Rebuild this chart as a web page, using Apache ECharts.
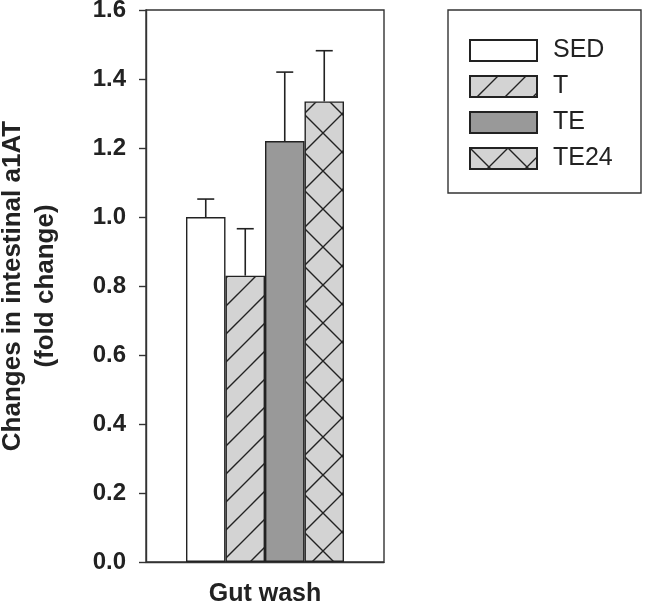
<!DOCTYPE html>
<html>
<head>
<meta charset="utf-8">
<script src="https://cdn.jsdelivr.net/npm/echarts@6/dist/echarts.min.js"></script>
<style>
  html, body { margin: 0; padding: 0; background: #fff; }
  #main { width: 645px; height: 605px; }
</style>
</head>
<body>
<div id="main"></div>
<script>
// data
var categories = ['Gut wash'];
var groups = ['SED', 'T', 'TE', 'TE24'];
var means = [1.00, 0.83, 1.22, 1.335];
var errors = [0.052, 0.136, 0.20, 0.147];

// hatch fills drawn on a small canvas
function hatch(size, bg, both) {
  var c = document.createElement('canvas');
  c.width = size; c.height = size;
  var g = c.getContext('2d');
  g.fillStyle = bg;
  g.fillRect(0, 0, size, size);
  g.strokeStyle = '#222';
  g.lineWidth = 1.4;
  g.beginPath();
  // "/" lines
  g.moveTo(-2, size + 2); g.lineTo(size + 2, -2);
  g.moveTo(-2, 2); g.lineTo(2, -2);
  g.moveTo(size - 2, size + 2); g.lineTo(size + 2, size - 2);
  if (both) {
    // "\" lines
    g.moveTo(-2, -2); g.lineTo(size + 2, size + 2);
    g.moveTo(size - 2, -2); g.lineTo(size + 2, 2);
    g.moveTo(-2, size - 2); g.lineTo(2, size + 2);
  }
  g.stroke();
  return { image: c, repeat: 'repeat' };
}

var fills = ['#ffffff', hatch(28, '#d3d3d3', false), '#999999', hatch(38, '#d3d3d3', true)];
var barW = 39.5;
var font = 'Liberation Sans';

var chart = echarts.init(document.getElementById('main'));

var series = groups.map(function (name, i) {
  return {
    name: name,
    type: 'bar',
    data: [means[i]],
    barWidth: barW,
    barGap: '0%',
    itemStyle: { color: fills[i], borderColor: '#222', borderWidth: 1.4 },
    z: 2
  };
});

// error bars (upper only)
series.push({
  type: 'custom',
  z: 3,
  data: groups.map(function (g, i) { return [0, i, means[i], errors[i]]; }),
  renderItem: function (params, api) {
    var i = api.value(1);
    var base = api.coord([api.value(0), api.value(2)]);
    var top = api.coord([api.value(0), api.value(2) + api.value(3)]);
    var x = base[0] + (i - 1.5) * barW;
    var half = 8.5;
    var st = { stroke: '#222', lineWidth: 1.6 };
    return {
      type: 'group',
      children: [
        { type: 'line', shape: { x1: x, y1: base[1], x2: x, y2: top[1] }, style: st },
        { type: 'line', shape: { x1: x - half, y1: top[1], x2: x + half, y2: top[1] }, style: st }
      ]
    };
  }
});

var option = {
  backgroundColor: '#ffffff',
  animation: false,
  grid: {
    left: 146, right: 261, top: 10, bottom: 43,
    outerBoundsMode: 'none',
    show: true, borderColor: '#333', borderWidth: 1.4
  },
  legend: {
    data: groups,
    orient: 'vertical',
    left: 464,
    top: 33,
    itemWidth: 67,
    itemHeight: 21,
    itemGap: 11,
    icon: 'rect',
    textStyle: { fontFamily: font, fontSize: 25, lineHeight: 21, color: '#222', padding: [0, 0, 0, 11] }
  },
  graphic: [{
    type: 'rect',
    shape: { x: 448, y: 10, width: 193, height: 183 },
    style: { fill: 'none', stroke: '#333', lineWidth: 1.4 }
  }],
  xAxis: {
    type: 'category',
    data: categories,
    axisLine: { lineStyle: { color: '#333', width: 1.4 } },
    axisTick: { show: false },
    axisLabel: { margin: 20, fontFamily: font, fontWeight: 'bold', fontSize: 25, color: '#222' }
  },
  yAxis: {
    type: 'value',
    min: 0, max: 1.6, interval: 0.2,
    name: 'Changes in intestinal a1AT\n(fold change)',
    nameLocation: 'middle',
    nameGap: 84,
    nameTextStyle: { fontFamily: font, fontWeight: 'bold', fontSize: 26, color: '#222', lineHeight: 33 },
    axisLine: { show: true, lineStyle: { color: '#333', width: 1.4 } },
    axisTick: { show: true, length: 7, lineStyle: { color: '#333', width: 1.4 } },
    splitLine: { show: false },
    axisLabel: {
      margin: 20,
      fontFamily: font, fontWeight: 'bold', fontSize: 24, color: '#222',
      formatter: function (v) { return v.toFixed(1); }
    }
  },
  series: series
};

chart.setOption(option);
</script>
</body>
</html>
